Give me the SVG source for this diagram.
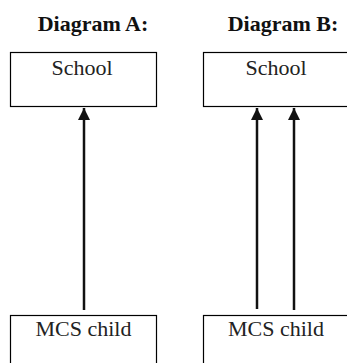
<svg xmlns="http://www.w3.org/2000/svg" width="347" height="363" viewBox="0 0 347 363">
<defs>
<style>
.box{fill:#fff;stroke:#000;stroke-width:1.2}
.t{font-family:"Liberation Serif",serif;font-size:22px;fill:#222;text-anchor:middle}
.h{font-family:"Liberation Serif",serif;font-size:22px;font-weight:bold;fill:#111;text-anchor:middle}
.c{stroke:#111;stroke-width:2.5;fill:none}
</style>
<marker id="ah" viewBox="0 0 10 10" refX="10" refY="5" markerWidth="4.8" markerHeight="4.8" markerUnits="strokeWidth" orient="auto">
<path d="M0,0 L10,5 L0,10 z" fill="#111"/>
</marker>
</defs>
<rect width="347" height="363" fill="#fff"/>
<text class="h" x="93" y="30.5">Diagram A:</text>
<text class="h" x="283" y="30.5">Diagram B:</text>
<g id="schoolA"><rect class="box" x="10.5" y="52.5" width="146" height="54"/><text class="t" x="82" y="74.5">School</text></g>
<g id="schoolB"><rect class="box" x="203.5" y="52.5" width="150" height="54"/><text class="t" x="276" y="74.5">School</text></g>
<g id="childA"><rect class="box" x="10.5" y="315.5" width="146" height="60"/><text class="t" x="83.5" y="336">MCS child</text></g>
<g id="childB"><rect class="box" x="203.5" y="315.5" width="150" height="60"/><text class="t" x="276" y="336">MCS child</text></g>
<g id="connectors">
<line class="c" x1="84" y1="310" x2="84" y2="108" marker-end="url(#ah)"/>
<line class="c" x1="257" y1="309" x2="257" y2="108" marker-end="url(#ah)"/>
<line class="c" x1="294" y1="310" x2="294" y2="108" marker-end="url(#ah)"/>
</g>
</svg>
